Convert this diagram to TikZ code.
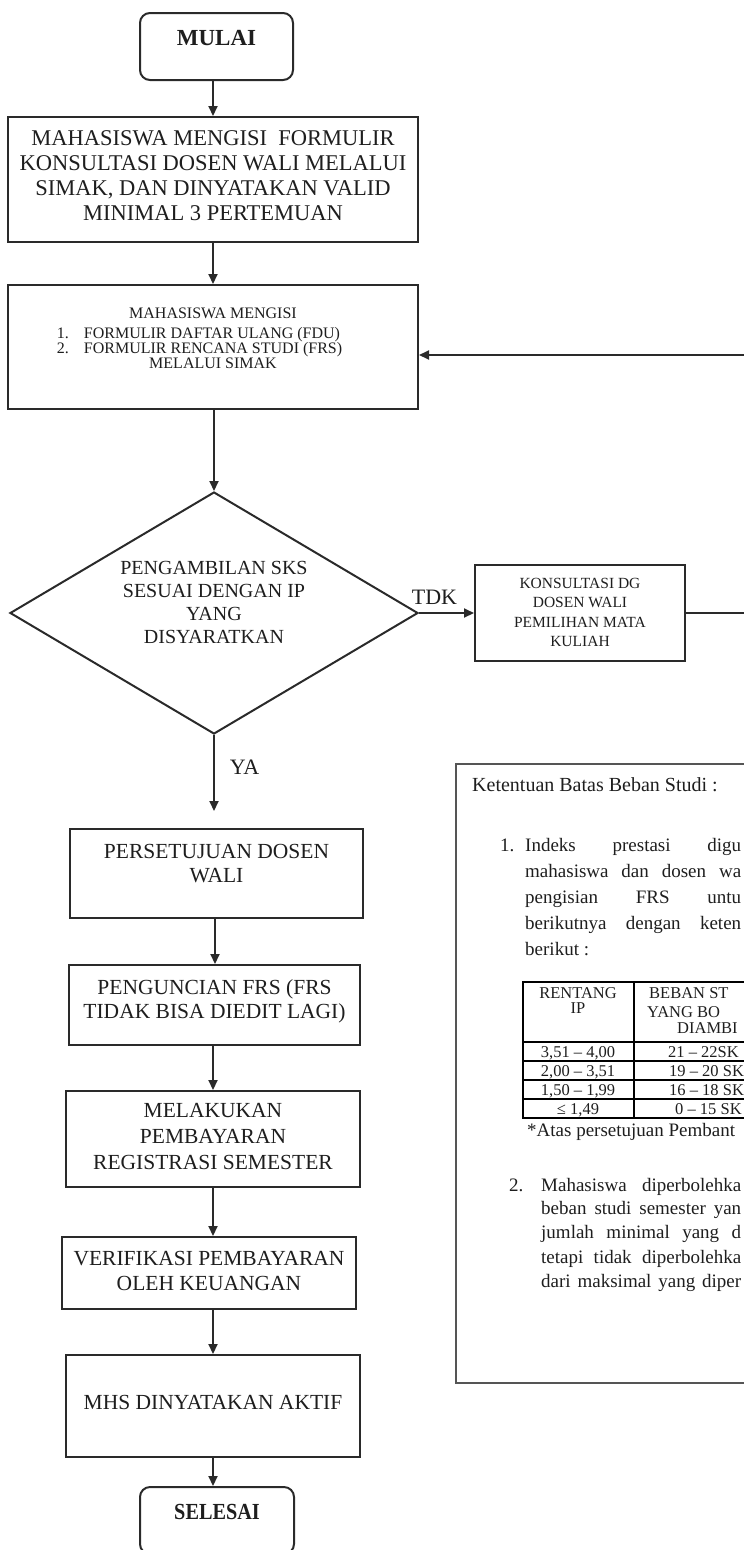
\documentclass[tikz,border=0pt]{standalone}
\usepackage{fontspec}
\setmainfont{Liberation Serif}
\usetikzlibrary{arrows.meta,shapes.geometric}
\definecolor{ink}{HTML}{1E1E1E}
\definecolor{edge}{HTML}{2A2A2A}
\newcommand{\bt}[4]{\parbox[c][#2][t]{#1}{\centering\vspace*{#3}#4\par}}
\newcommand{\fs}[2]{\fontsize{#1}{#2}\selectfont}
\newcommand{\jl}[2]{\makebox[#1][s]{#2}}
\begin{document}
\begin{tikzpicture}[x=1pt,y=-1pt,
  box/.style={draw=edge, line width=2pt, inner sep=0pt, fill=white, text=ink},
  arr/.style={draw=edge, line width=2pt, -{Triangle[length=10pt,width=9pt]}},
  ln/.style={draw=edge, line width=2pt},
  lbl/.style={inner sep=0pt, text=ink, font=\fs{22}{24}},
  nt/.style={inner sep=0pt, anchor=base west, text=ink, font=\fs{19}{24}},
  tc/.style={inner sep=0pt, anchor=base, text=ink, font=\fs{16.5}{18}},
  tw/.style={inner sep=0pt, anchor=base west, text=ink, font=\fs{16.5}{18}},
  tl/.style={draw=black, line width=2pt}]
\useasboundingbox (0,0) rectangle (744,1550);
\clip (0,0) rectangle (744,1550);

% flow boxes
\node[box, rounded corners=10pt] (start) at (216.5,46.5)
  {\bt{153pt}{67pt}{17pt}{\fs{23}{24}\bfseries MULAI}};
\node[box] (b2) at (213,179.5)
  {\bt{410pt}{125pt}{13.5pt}{\fs{22.5}{25}MAHASISWA MENGISI\ \ FORMULIR\\KONSULTASI DOSEN WALI MELALUI\\SIMAK, DAN DINYATAKAN VALID\\MINIMAL 3 PERTEMUAN}};
\node[box] (b3) at (213,347)
  {\bt{410pt}{124pt}{22.5pt}{\fs{16}{15}MAHASISWA MENGISI\\[5pt]\makebox[410pt][l]{\hspace*{49pt}\makebox[27pt][l]{1.}FORMULIR DAFTAR ULANG (FDU)}\\\makebox[410pt][l]{\hspace*{49pt}\makebox[27pt][l]{2.}FORMULIR RENCANA STUDI (FRS)}\\MELALUI SIMAK}};
\node[draw=edge, line width=2pt, diamond, inner sep=0pt, minimum width=408pt, minimum height=242pt] (dec) at (214,613) {};
\node[inner sep=0pt, align=center, text=ink, font=\fs{20}{23}] (dect) at (214,602.5)
  {PENGAMBILAN SKS\\SESUAI DENGAN IP\\YANG\\DISYARATKAN};
\node[box] (kons) at (580,613)
  {\bt{210pt}{96pt}{13pt}{\fs{15.5}{19.5}KONSULTASI DG\\DOSEN WALI\\PEMILIHAN MATA\\KULIAH}};
\node[lbl] (tdk) at (434.5,597) {TDK};
\node[lbl] (ya) at (244.5,767) {YA};

\node[box] (p1) at (216.5,873.5)
  {\bt{293pt}{89pt}{15pt}{\fs{21.5}{24}PERSETUJUAN DOSEN\\WALI}};
\node[box] (p2) at (214.5,1005)
  {\bt{291pt}{80pt}{15pt}{\fs{21.5}{24}PENGUNCIAN FRS (FRS\\TIDAK BISA DIEDIT LAGI)}};
\node[box] (p3) at (213,1139)
  {\bt{294pt}{96pt}{12pt}{\fs{21.5}{26}MELAKUKAN\\PEMBAYARAN\\REGISTRASI SEMESTER}};
\node[box] (p4) at (209,1273)
  {\bt{294pt}{72pt}{14pt}{\fs{21.5}{25}VERIFIKASI PEMBAYARAN\\OLEH KEUANGAN}};
\node[box] (p5) at (213,1406)
  {\bt{294pt}{102pt}{40pt}{\fs{21.5}{24}MHS DINYATAKAN AKTIF}};
\node[box, rounded corners=10pt] (end) at (217,1520.5)
  {\bt{154pt}{67pt}{17pt}{\fs{23}{24}\bfseries\scalebox{0.88}[1]{SELESAI}}};

% connectors
\coordinate (eR1) at (748,613);
\coordinate (eR2) at (748,355);
\draw[arr] (b2.north |- start.south) -- (b2.north);
\draw[arr] (b2.south) -- (b3.north);
\draw[arr] (dec.north |- b3.south) -- (dec.north);
\draw[arr, shorten >=17pt] (dec.south) -- (dec.south |- p1.north);
\draw[arr] ([xshift=-1.5pt]p1.south) -- ([xshift=-1.5pt]p1.south |- p2.north);
\draw[arr] (p3.north |- p2.south) -- (p3.north);
\draw[arr] (p3.south) -- (p3.south |- p4.north);
\draw[arr] (p4.south -| p5.north) -- (p5.north);
\draw[arr] (p5.south) -- (p5.south |- end.north);
\draw[arr] (dec.east) -- (kons.west);
\draw[ln] (kons.east) -- (eR1);
\draw[arr] (eR2) -- (eR2 -| b3.east);

% note box
\node[draw=edge!80, line width=2pt, fill=none, inner sep=0pt, minimum width=314pt, minimum height=619pt] (note) at (613,1073.5) {};
\node[nt, font=\fs{20}{24}] (n0) at (472,791) {Ketentuan Batas Beban Studi :};
\node[nt] (n1n) at (500,851) {1.};
\node[nt] (n1a) at (525,851) {\jl{216pt}{Indeks prestasi digu}};
\node[nt] (n1b) at (525,877) {\jl{216pt}{mahasiswa dan dosen wa}};
\node[nt] (n1c) at (525,903) {\jl{216pt}{pengisian FRS untu}};
\node[nt] (n1d) at (525,929) {\jl{216pt}{berikutnya dengan keten}};
\node[nt] (n1e) at (525,955) {berikut :};

% table
\draw[tl] (523,982) rectangle (760,1118);
\draw[tl] (634,982) -- (634,1118);
\foreach \yy in {1042,1061,1080,1099} \draw[tl] (523,\yy) -- (760,\yy);
\node[tc] (h1) at (578,998.5) {RENTANG};
\node[tc] (h2) at (578,1013) {IP};
\node[tw] (h3) at (649,998.5) {BEBAN ST};
\node[tw] (h4) at (647,1017) {YANG BO};
\node[tw] (h5) at (677,1033) {DIAMBI};
\node[tc] (r1a) at (578,1057.5) {3,51 – 4,00};
\node[tc] (r2a) at (578,1076) {2,00 – 3,51};
\node[tc] (r3a) at (578,1095) {1,50 – 1,99};
\node[tc] (r4a) at (578,1114) {≤ 1,49};
\node[tw] (r1b) at (668,1057.5) {21 – 22SK};
\node[tw] (r2b) at (669,1076) {19 – 20 SK};
\node[tw] (r3b) at (669,1095) {16 – 18 SK};
\node[tw] (r4b) at (675,1114) {0 – 15 SK};
\node[nt] (atas) at (527,1136) {*Atas persetujuan Pembant};

\node[nt] (n2n) at (509,1191) {2.};
\node[nt] (n2a) at (541,1191) {\jl{200pt}{Mahasiswa diperbolehka}};
\node[nt] (n2b) at (541,1214) {\jl{200pt}{beban studi semester yan}};
\node[nt] (n2c) at (541,1238) {\jl{200pt}{jumlah minimal yang d}};
\node[nt] (n2d) at (541,1263) {\jl{200pt}{tetapi tidak diperbolehka}};
\node[nt] (n2e) at (541,1287) {\jl{200pt}{dari maksimal yang diper}};
\end{tikzpicture}
\end{document}
